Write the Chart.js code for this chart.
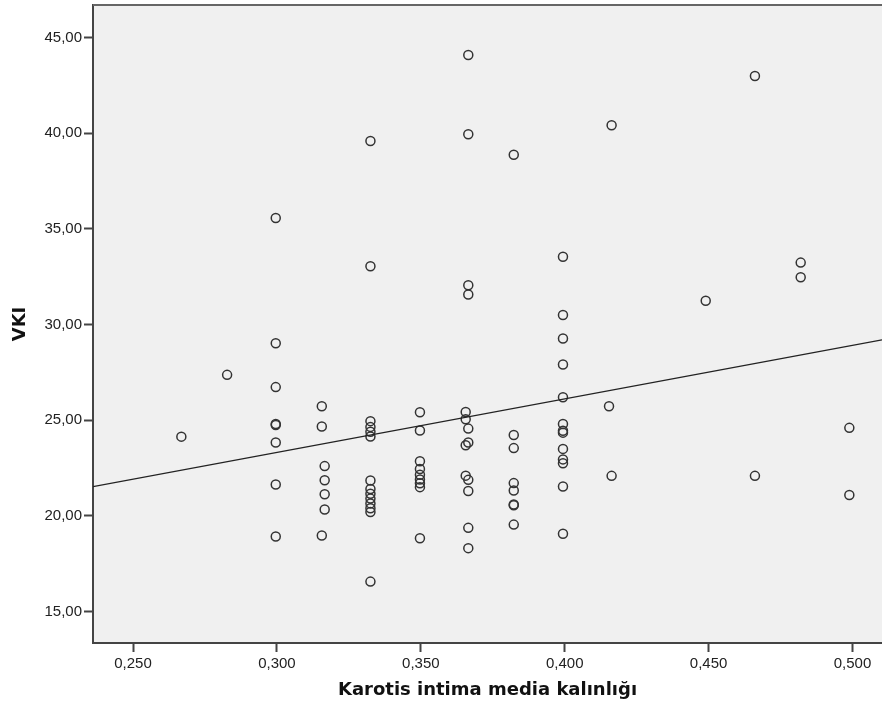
<!DOCTYPE html>
<html>
<head>
<meta charset="utf-8">
<script src="https://cdn.jsdelivr.net/npm/chart.js@4/dist/chart.umd.min.js"></script>
<style>
  body { margin: 0; background: #fff; }
  #wrap { width: 882px; height: 714px; }
</style>
</head>
<body>
<div id="wrap"><canvas id="myChart" width="882" height="714"></canvas></div>
<script>
// Karotis intima media kalinligi (x) vs VKI (y)
var kimt = [
  0.2668, 0.2827,
  0.2996, 0.2996, 0.2996, 0.2996, 0.2996, 0.2996, 0.2996, 0.2996,
  0.3156, 0.3156, 0.3156,
  0.3166, 0.3166, 0.3166, 0.3166,
  0.3325, 0.3325, 0.3325, 0.3325, 0.3325, 0.3325, 0.3325, 0.3325, 0.3325, 0.3325, 0.3325, 0.3325, 0.3325, 0.3325,
  0.3497, 0.3497, 0.3497, 0.3497, 0.3497, 0.3497, 0.3497, 0.3497, 0.3497,
  0.3656, 0.3656, 0.3656, 0.3656,
  0.3665, 0.3665, 0.3665, 0.3665, 0.3665, 0.3665, 0.3665, 0.3665, 0.3665, 0.3665,
  0.3823, 0.3823, 0.3823, 0.3823, 0.3823, 0.3823, 0.3823, 0.3823,
  0.3994, 0.3994, 0.3994, 0.3994, 0.3994, 0.3994, 0.3994, 0.3994, 0.3994, 0.3994, 0.3994, 0.3994, 0.3994,
  0.4154, 0.4163, 0.4163,
  0.4490, 0.4661, 0.4661, 0.4820, 0.4820, 0.4989, 0.4989
];
var vki = [
  24.14, 27.37,
  35.57, 29.02, 26.73, 24.80, 24.75, 23.83, 21.64, 18.92,
  25.73, 24.67, 18.97,
  22.60, 21.86, 21.13, 20.33,
  39.60, 33.05, 24.95, 24.65, 24.40, 24.15, 21.85, 21.40, 21.15, 20.90, 20.65, 20.40, 20.20, 16.56,
  25.42, 24.46, 22.85, 22.45, 22.15, 21.90, 21.70, 21.50, 18.83,
  25.43, 25.05, 23.69, 22.10,
  44.10, 39.95, 32.06, 31.57, 24.56, 23.83, 21.88, 21.30, 19.37, 18.31,
  38.88, 24.23, 23.54, 21.71, 21.32, 20.59, 20.55, 19.54,
  33.55, 30.50, 29.27, 27.91, 26.20, 24.80, 24.45, 24.35, 23.50, 22.95, 22.75, 21.53, 19.06,
  25.73, 40.42, 22.09,
  31.25, 43.00, 22.09, 33.24, 32.47, 24.60, 21.09
];

// fit line, end points where it meets the frame
var fitX = [0.2361, 0.51025];
var fitY = [21.53, 29.20];

var xMin = 0.2361, xMax = 0.51025;
var yMin = 13.35, yMax = 46.71;

var points = [];
for (var i = 0; i < kimt.length; i++) {
  points.push({ x: kimt[i], y: vki[i] });
}
var fitLine = [];
for (var j = 0; j < fitX.length; j++) {
  fitLine.push({ x: fitX[j], y: fitY[j] });
}

// gray plot background + top frame line
var plotBg = {
  id: 'plotBg',
  beforeDraw: function(chart) {
    var a = chart.chartArea;
    var c = chart.ctx;
    c.save();
    c.fillStyle = '#f0f0f0';
    c.fillRect(a.left, a.top, a.right - a.left, a.bottom - a.top);
    c.restore();
  },
  afterDraw: function(chart) {
    var a = chart.chartArea;
    var c = chart.ctx;
    c.save();
    c.strokeStyle = '#666';
    c.lineWidth = 2;
    c.beginPath();
    c.moveTo(a.left, a.top);
    c.lineTo(a.right, a.top);
    c.stroke();
    c.restore();
  }
};

var ctx = document.getElementById('myChart').getContext('2d');
var myChart = new Chart(ctx, {
  type: 'scatter',
  data: {
    datasets: [{
      label: 'VKI',
      data: points,
      pointStyle: 'circle',
      pointRadius: 4.5,
      pointBorderWidth: 1.5,
      borderColor: '#333',
      backgroundColor: 'rgba(0,0,0,0)',
      order: 1
    }, {
      label: 'fit',
      data: fitLine,
      showLine: true,
      pointRadius: 0,
      borderColor: '#222',
      borderWidth: 1.3,
      order: 0
    }]
  },
  options: {
    responsive: false,
    animation: false,
    events: [],
    layout: { autoPadding: false, padding: { top: 5, right: 0, left: 0, bottom: 0 } },
    plugins: {
      legend: { display: false },
      tooltip: { enabled: false }
    },
    scales: {
      x: {
        type: 'linear',
        min: xMin,
        max: xMax,
        afterFit: function(s) { s.height = 71; s.paddingLeft = 0; s.paddingRight = 0; },
        border: { color: '#444', width: 2 },
        grid: { drawOnChartArea: false, tickLength: 9, tickWidth: 2, tickColor: '#444' },
        ticks: {
          stepSize: 0.05,
          includeBounds: false,
          maxRotation: 0,
          padding: 3,
          color: '#222',
          font: { family: 'Liberation Sans', size: 15 },
          callback: function(v) { return v.toFixed(3).replace('.', ','); }
        },
        title: {
          display: true,
          text: 'Karotis intima media kalınlığı',
          color: '#111',
          font: { family: 'DejaVu Sans', size: 18, weight: 'bold' },
          padding: { top: 0, bottom: 13 }
        }
      },
      y: {
        type: 'linear',
        min: yMin,
        max: yMax,
        afterFit: function(s) { s.width = 93; s.paddingTop = 0; s.paddingBottom = 0; },
        border: { color: '#444', width: 2 },
        grid: { drawOnChartArea: false, tickLength: 9, tickWidth: 2, tickColor: '#444' },
        ticks: {
          stepSize: 5,
          includeBounds: false,
          padding: 2,
          color: '#222',
          font: { family: 'Liberation Sans', size: 15 },
          callback: function(v) { return v.toFixed(2).replace('.', ','); }
        },
        title: {
          display: true,
          text: 'VKI',
          color: '#111',
          font: { family: 'DejaVu Sans', size: 18, weight: 'bold' },
          padding: { top: 10, bottom: 0 }
        }
      }
    }
  },
  plugins: [plotBg]
});
</script>
</body>
</html>
